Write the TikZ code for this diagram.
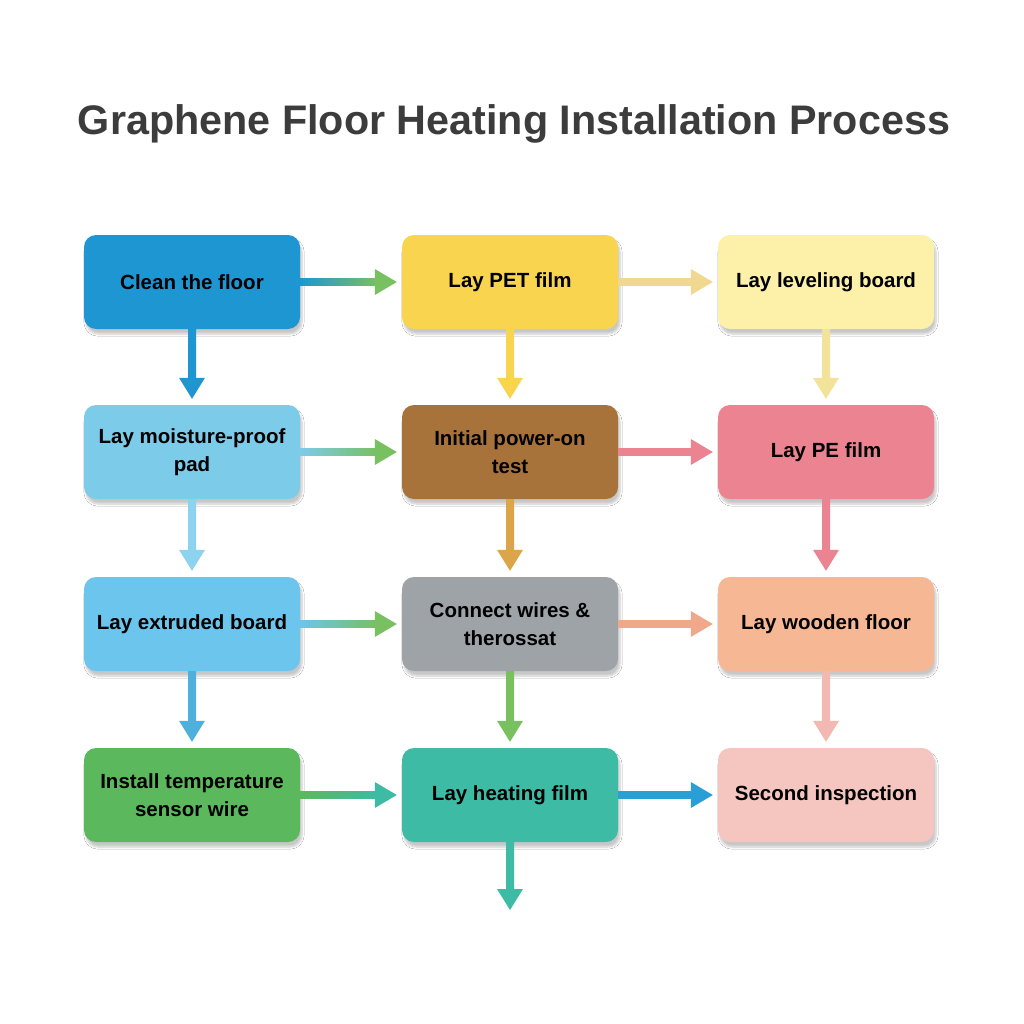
\documentclass[tikz,border=0pt]{standalone}
\usepackage{fontspec}
\setmainfont{Liberation Sans}
\usetikzlibrary{calc,shadows.blur}
\definecolor{cBlue}{HTML}{1E96D2}
\definecolor{cYellow}{HTML}{F9D44E}
\definecolor{cLYellow}{HTML}{FDF0A8}
\definecolor{cMoist}{HTML}{7CCBE9}
\definecolor{cBrown}{HTML}{A8733A}
\definecolor{cPink}{HTML}{EC8391}
\definecolor{cExtr}{HTML}{6CC5EC}
\definecolor{cGray}{HTML}{9EA3A8}
\definecolor{cSalmon}{HTML}{F6B894}
\definecolor{cGreen}{HTML}{5CB85C}
\definecolor{cTeal}{HTML}{3DBBA4}
\definecolor{cLPink}{HTML}{F5C5C0}
\definecolor{aGreen}{HTML}{78C060}
\definecolor{aTan}{HTML}{F0D890}
\definecolor{aGold}{HTML}{DDA54A}
\definecolor{aLBlue}{HTML}{8DD3F0}
\definecolor{aMBlue}{HTML}{4FB0DC}
\definecolor{aSalmon}{HTML}{F0A88A}
\definecolor{aLPink}{HTML}{F3B8B2}
\definecolor{aLevel}{HTML}{F3E29A}
\definecolor{aBlue}{HTML}{2A9FD6}
\definecolor{titlecol}{HTML}{3C3C3C}
\tikzset{
  stepbox/.style={rounded corners=12pt, minimum width=216pt, minimum height=94pt,
    align=center, font=\bfseries\fontsize{20.5}{28}\selectfont, text=black,
    blur shadow={shadow xshift=2pt, shadow yshift=-5pt, shadow blur steps=6, shadow opacity=22}},
}
\newcommand\harr[4]{%
  \shade[left color=#3, right color=#4] ($(#1.east)+(0,-3.5)$) rectangle ($(#2.west)+(-24,3.5)$);
  \fill[#4] ($(#2.west)+(-27,-13)$) -- ($(#2.west)+(-5,0)$) -- ($(#2.west)+(-27,13)$) -- cycle;}
\newcommand\varr[4]{%
  \shade[top color=#3, bottom color=#4] ($(#1.south)+(-4,0)$) rectangle ($(#2.north)+(4,-24)$);
  \fill[#4] ($(#2.north)+(-13,-27)$) -- ($(#2.north)+(0,-6)$) -- ($(#2.north)+(13,-27)$) -- cycle;}
\begin{document}
\begin{tikzpicture}[x=1pt,y=-1pt]
\fill[white] (0,0) rectangle (1024,1024);
\useasboundingbox (0,0) rectangle (1024,1024);
\node[font=\bfseries\fontsize{41.3}{48}\selectfont, text=titlecol] (title) at (514,124) {Graphene Floor Heating Installation Process};

\node[stepbox, fill=cBlue] (clean) at (192,282) {Clean the floor};
\node[stepbox, fill=cYellow] (pet) at (510,282) {Lay PET film};
\node[stepbox, fill=cLYellow] (level) at (826,282) {Lay leveling board};
\node[stepbox, fill=cMoist] (moist) at (192,452) {Lay moisture-proof\\pad};
\node[stepbox, fill=cBrown] (init) at (510,452) {Initial power-on\\test};
\node[stepbox, fill=cPink] (pe) at (826,452) {Lay PE film};
\node[stepbox, fill=cExtr] (extr) at (192,624) {Lay extruded board};
\node[stepbox, fill=cGray] (conn) at (510,624) {Connect wires \&\\therossat};
\node[stepbox, fill=cSalmon] (wood) at (826,624) {Lay wooden floor};
\node[stepbox, fill=cGreen] (sensor) at (192,795) {Install temperature\\sensor wire};
\node[stepbox, fill=cTeal] (heat) at (510,795) {Lay heating film};
\node[stepbox, fill=cLPink] (second) at (826,795) {Second inspection};
\coordinate (end) at (510,916);

\harr{clean}{pet}{cBlue}{aGreen}
\harr{pet}{level}{aTan}{aTan}
\harr{moist}{init}{cMoist}{aGreen}
\harr{init}{pe}{cPink}{cPink}
\harr{extr}{conn}{cExtr}{aGreen}
\harr{conn}{wood}{aSalmon}{aSalmon}
\harr{sensor}{heat}{cGreen}{cTeal}
\harr{heat}{second}{aBlue}{aBlue}

\varr{clean}{moist}{cBlue}{cBlue}
\varr{moist}{extr}{aLBlue}{aLBlue}
\varr{extr}{sensor}{aMBlue}{aMBlue}
\varr{pet}{init}{cYellow}{cYellow}
\varr{init}{conn}{aGold}{aGold}
\varr{conn}{heat}{aGreen}{aGreen}
\varr{heat}{end}{cTeal}{cTeal}
\varr{level}{pe}{aLevel}{aLevel}
\varr{pe}{wood}{cPink}{cPink}
\varr{wood}{second}{aLPink}{aLPink}
\end{tikzpicture}
\end{document}
